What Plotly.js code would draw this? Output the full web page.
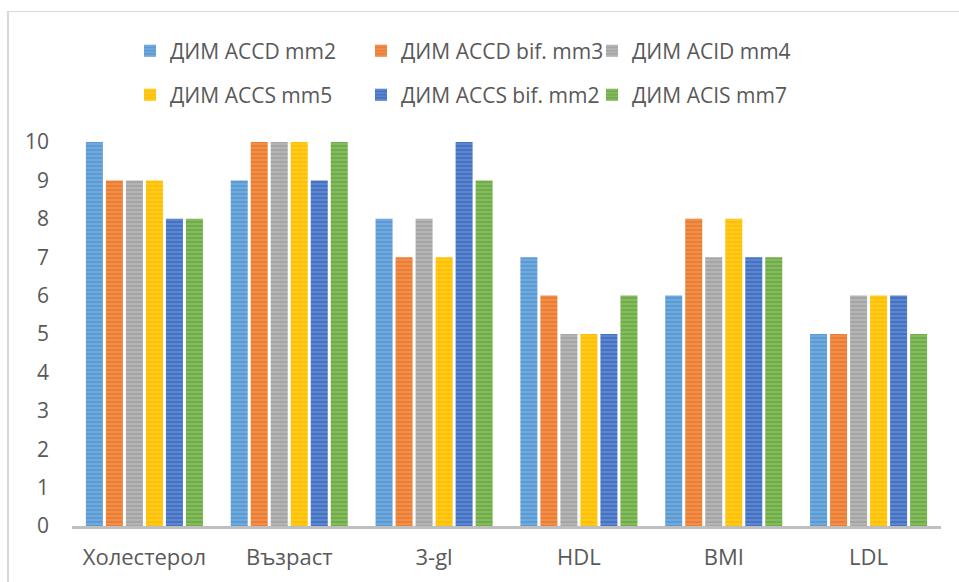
<!DOCTYPE html>
<html><head><meta charset="utf-8">
<script src="https://cdn.plot.ly/plotly-3.0.1.min.js"></script>
<style>
html,body{margin:0;padding:0;background:#fff;}
#wrap{position:relative;width:959px;height:582px;overflow:hidden;}
#chart{width:959px;height:582px;}
#frame{position:absolute;left:7px;top:11px;width:960px;height:600px;border-left:2px solid #d9d9d9;border-top:1px solid #d9d9d9;pointer-events:none;}
</style></head>
<body><div id="wrap"><div id="chart"></div><div id="frame"></div></div>
<script>
const categories = ["Холестерол", "Възраст", "3-gl", "HDL", "BMI", "LDL"];
const seriesNames = ["ДИМ ACCD mm2", "ДИМ ACCD bif. mm3", "ДИМ ACID mm4", "ДИМ ACCS mm5", "ДИМ ACCS bif. mm2", "ДИМ ACIS mm7"];
const accdMm2    = [10, 9, 8, 7, 6, 5];
const accdBifMm3 = [9, 10, 7, 6, 8, 5];
const acidMm4    = [9, 10, 8, 5, 7, 6];
const accsMm5    = [9, 10, 7, 5, 8, 6];
const accsBifMm2 = [8, 9, 10, 5, 7, 6];
const acisMm7    = [8, 10, 9, 6, 7, 5];
const yTicks = [0,1,2,3,4,5,6,7,8,9,10];

const seriesValues = [accdMm2, accdBifMm3, acidMm4, accsMm5, accsBifMm2, acisMm7];
const colors  = ["#5B9BD5", "#ED7D31", "#A5A5A5", "#FFC000", "#4472C4", "#70AD47"];
const stripes = ["#9DC3E6", "#F4B183", "#D0D0D0", "#FFD966", "#8FAADC", "#A9D18E"];

const traces = seriesValues.map((vals, i) => ({
  type: "bar",
  name: seriesNames[i],
  legend: i < 3 ? "legend" : "legend2",
  x: categories,
  y: vals,
  marker: {
    color: colors[i],
    line: {width: 0},
    pattern: {shape: "-", fillmode: "overlay", fgcolor: stripes[i], size: 4, solidity: 0.35}
  },
  hoverinfo: "x+y+name"
}));

const font = "'Open Sans', Lato, 'DejaVu Sans', sans-serif";
const legendBase = {
  orientation: "h",
  xref: "paper", x: (130 - 72) / 869, xanchor: "left",
  yanchor: "middle",
  entrywidth: 186,
  entrywidthmode: "pixels",
  bgcolor: "rgba(0,0,0,0)",
  font: {family: font, size: 21, color: "#595959"},
  itemclick: false
};
const layout = {
  width: 959, height: 582,
  margin: {l: 72, r: 18, t: 142, b: 56, autoexpand: false},
  paper_bgcolor: "#fff", plot_bgcolor: "#fff",
  font: {family: font, size: 21, color: "#595959"},
  barmode: "group",
  bargap: 0.171,
  bargroupgap: 0.15,
  showlegend: true,
  legend: Object.assign({}, legendBase, {y: (526 - 51) / 384}),
  legend2: Object.assign({}, legendBase, {y: (526 - 95) / 384}),
  xaxis: {
    type: "category",
    showline: true, linecolor: "#BFBFBF", linewidth: 3,
    showgrid: false, zeroline: false,
    ticks: "", ticklabelstandoff: 10,
    tickfont: {family: font, size: 22, color: "#595959"}
  },
  yaxis: {
    range: [0, 10],
    tickmode: "array", tickvals: yTicks, ticktext: yTicks.map(String),
    showline: false, showgrid: false, zeroline: false,
    ticks: "", ticklabelstandoff: 22,
    tickfont: {family: font, size: 21, color: "#595959"}
  }
};

Plotly.newPlot("chart", traces, layout, {displayModeBar: false, staticPlot: true});
</script></body></html>
